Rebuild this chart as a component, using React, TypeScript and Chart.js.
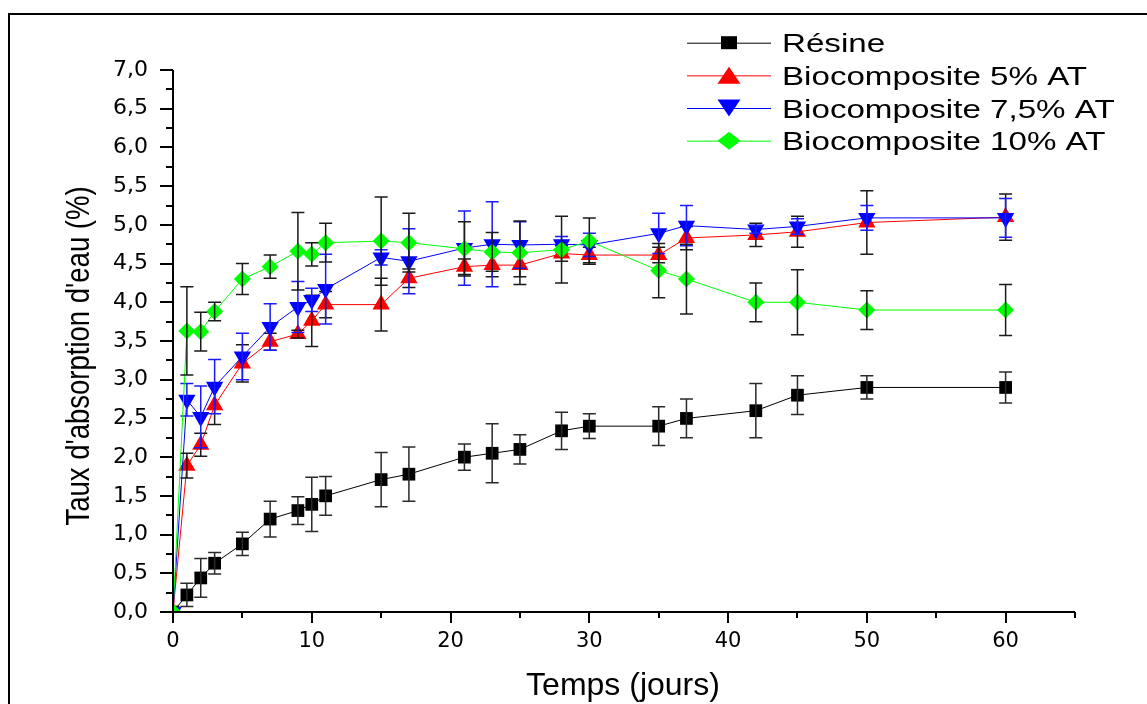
import React, { useEffect, useRef } from 'react';
import { Chart, registerables } from 'chart.js';

Chart.register(...registerables);

// ---------- data ----------
const days = [0, 1, 2, 3, 5, 7, 9, 10, 11, 15, 17, 21, 23, 25, 28, 30, 35, 37, 42, 45, 50, 60];

const resine = [0, 0.22, 0.44, 0.63, 0.88, 1.2, 1.31, 1.39, 1.5, 1.71, 1.78, 2.0, 2.05, 2.1, 2.34, 2.4, 2.4, 2.5, 2.6, 2.8, 2.9, 2.9];
const resineErr = [0, 0.15, 0.25, 0.14, 0.15, 0.23, 0.18, 0.35, 0.25, 0.35, 0.35, 0.17, 0.38, 0.19, 0.24, 0.16, 0.25, 0.25, 0.35, 0.25, 0.15, 0.2];

const bio5 = [0, 1.89, 2.16, 2.67, 3.21, 3.49, 3.59, 3.76, 3.97, 3.97, 4.31, 4.46, 4.48, 4.48, 4.63, 4.61, 4.61, 4.83, 4.87, 4.91, 5.03, 5.1];
const bio5Err = [0, 0.16, 0.15, 0.25, 0.24, 0.11, 0.05, 0.33, 0.17, 0.34, 0.12, 0.1, 0.15, 0.15, 0.1, 0.1, 0.1, 0.15, 0.15, 0.2, 0.41, 0.3];

const bio75 = [0, 2.74, 2.52, 2.91, 3.3, 3.68, 3.94, 4.03, 4.17, 4.58, 4.53, 4.7, 4.75, 4.74, 4.75, 4.74, 4.89, 4.99, 4.94, 4.98, 5.09, 5.09];
const bio75Err = [0, 0.21, 0.4, 0.35, 0.3, 0.3, 0.33, 0.15, 0.45, 0.1, 0.42, 0.48, 0.55, 0.3, 0.1, 0.15, 0.26, 0.26, 0.05, 0.1, 0.16, 0.25];

const bio10 = [0, 3.63, 3.62, 3.88, 4.3, 4.46, 4.66, 4.62, 4.77, 4.79, 4.77, 4.69, 4.65, 4.64, 4.68, 4.79, 4.41, 4.3, 4.0, 4.0, 3.9, 3.9];
const bio10Err = [0, 0.57, 0.25, 0.12, 0.2, 0.15, 0.5, 0.15, 0.25, 0.57, 0.38, 0.35, 0.25, 0.41, 0.43, 0.3, 0.35, 0.45, 0.25, 0.42, 0.25, 0.33];

const seriesLabels = ['Résine', 'Biocomposite 5% AT', 'Biocomposite 7,5% AT', 'Biocomposite 10% AT'];
const seriesColors = ['#000000', '#ff0000', '#0000ff', '#00ff00'];
const errorColors = ['#2a2a2a', '#1a1a1a', '#1a1aff', '#1a1a1a'];
const legendShapes = ['square', 'triUp', 'triDown', 'diamond'];

const xTitle = 'Temps (jours)';
const yTitle = "Taux d'absorption d'eau (%)";

const xMin = 0, xMax = 65, xMajorStep = 10, xMinorStep = 5;
const yMin = 0, yMax = 7, yMajorStep = 0.5, yMinorStep = 0.25;

const seriesValues = [resine, bio5, bio75, bio10];
const seriesErrors = [resineErr, bio5Err, bio75Err, bio10Err];

// ---------- plugins ----------
const errorBarsPlugin = {
  id: 'errorBars',
  afterDatasetDraw(chart: any, args: any) {
    const idx = args.index;
    const errs = seriesErrors[idx];
    const vals = seriesValues[idx];
    if (!errs) return;
    const { ctx, scales } = chart;
    const xs = scales.x, ys = scales.y;
    ctx.save();
    ctx.strokeStyle = errorColors[idx];
    ctx.lineWidth = 1.5;
    const cap = 6.5;
    for (let i = 0; i < days.length; i++) {
      const e = errs[i];
      if (!e) continue;
      const px = xs.getPixelForValue(days[i]);
      const top = ys.getPixelForValue(vals[i] + e);
      const bot = ys.getPixelForValue(vals[i] - e);
      ctx.beginPath();
      ctx.moveTo(px, top);
      ctx.lineTo(px, bot);
      ctx.moveTo(px - cap, top);
      ctx.lineTo(px + cap, top);
      ctx.moveTo(px - cap, bot);
      ctx.lineTo(px + cap, bot);
      ctx.stroke();
    }
    ctx.restore();
  },
};

const axesPlugin = {
  id: 'originAxes',
  afterDatasetsDraw(chart: any) {
    const { ctx, scales } = chart;
    const xs = scales.x, ys = scales.y;
    const x0 = xs.getPixelForValue(xMin);
    const x1 = xs.getPixelForValue(xMax);
    const y0 = ys.getPixelForValue(yMin);
    const y1 = ys.getPixelForValue(yMax);
    ctx.save();
    ctx.strokeStyle = '#000';
    ctx.lineWidth = 2;
    ctx.beginPath();
    ctx.moveTo(x0, y1);
    ctx.lineTo(x0, y0);
    ctx.lineTo(x1, y0);
    ctx.stroke();
    // y ticks
    for (let v = yMin; v <= yMax + 1e-9; v += yMinorStep) {
      const py = Math.round(ys.getPixelForValue(v));
      const major = Math.abs(v / yMajorStep - Math.round(v / yMajorStep)) < 1e-6;
      const len = major ? 13 : 7;
      ctx.beginPath();
      ctx.moveTo(x0 - len, py);
      ctx.lineTo(x0, py);
      ctx.stroke();
    }
    // x ticks
    for (let t = xMin; t <= xMax + 1e-9; t += xMinorStep) {
      const px = Math.round(xs.getPixelForValue(t));
      const major = t % xMajorStep === 0;
      const len = major ? 11 : 6;
      ctx.beginPath();
      ctx.moveTo(px, y0);
      ctx.lineTo(px, y0 + len);
      ctx.stroke();
    }
    ctx.restore();
  },
};

function drawLegendShape(ctx: CanvasRenderingContext2D, kind: string, cx: number, cy: number) {
  ctx.beginPath();
  if (kind === 'square') {
    ctx.rect(cx - 8, cy - 6.5, 16, 13);
  } else if (kind === 'triUp') {
    ctx.moveTo(cx, cy - 8.5);
    ctx.lineTo(cx + 11.5, cy + 8.5);
    ctx.lineTo(cx - 11.5, cy + 8.5);
    ctx.closePath();
  } else if (kind === 'triDown') {
    ctx.moveTo(cx, cy + 8.5);
    ctx.lineTo(cx + 11.5, cy - 8.5);
    ctx.lineTo(cx - 11.5, cy - 8.5);
    ctx.closePath();
  } else {
    ctx.moveTo(cx, cy - 9);
    ctx.lineTo(cx + 11.5, cy);
    ctx.lineTo(cx, cy + 9);
    ctx.lineTo(cx - 11.5, cy);
    ctx.closePath();
  }
  ctx.fill();
}

const decorPlugin = {
  id: 'decor',
  afterDraw(chart: any) {
    const { ctx, chartArea } = chart;
    ctx.save();
    // legend
    const lx0 = 687, lx1 = 771, mx = 729, tx = 782;
    const rowY0 = 42.7, rowGap = 32.65;
    chart.data.datasets.forEach((ds: any, i: number) => {
      const cy = rowY0 + i * rowGap;
      ctx.strokeStyle = ds.borderColor;
      ctx.fillStyle = ds.backgroundColor;
      ctx.lineWidth = 1;
      ctx.beginPath();
      ctx.moveTo(lx0, cy + 0.5);
      ctx.lineTo(lx1, cy + 0.5);
      ctx.stroke();
      drawLegendShape(ctx, legendShapes[i], mx, cy);
      ctx.save();
      ctx.fillStyle = '#000';
      ctx.font = '26.5px "Liberation Sans", Arial, sans-serif';
      ctx.textAlign = 'left';
      ctx.textBaseline = 'alphabetic';
      ctx.translate(tx, cy + 9.5);
      ctx.scale(1.25, 1);
      ctx.fillText(ds.label, 0, 0);
      ctx.restore();
    });
    // y title (rotated, stretched across)
    ctx.save();
    ctx.fillStyle = '#000';
    ctx.font = '27.5px "Liberation Sans", Arial, sans-serif';
    ctx.textAlign = 'center';
    ctx.textBaseline = 'alphabetic';
    ctx.translate(89, (chartArea.top + chartArea.bottom) / 2 + 15);
    ctx.rotate(-Math.PI / 2);
    ctx.scale(1, 1.2);
    ctx.fillText(yTitle, 0, 0);
    ctx.restore();
    // x title
    ctx.save();
    ctx.fillStyle = '#000';
    ctx.font = '32px "Liberation Sans", Arial, sans-serif';
    ctx.textAlign = 'center';
    ctx.textBaseline = 'alphabetic';
    ctx.fillText(xTitle, (chartArea.left + chartArea.right) / 2 - 1, 695);
    ctx.restore();
    ctx.restore();
  },
};

export default function App() {
  const canvasRef = useRef<HTMLCanvasElement | null>(null);

  useEffect(() => {
    const canvas = canvasRef.current;
    if (!canvas) return;
    const toPoints = (vals: number[]) => days.map((d, i) => ({ x: d, y: vals[i] }));
    const chart = new Chart(canvas, {
      type: 'line',
      data: {
        datasets: [
          {
            label: seriesLabels[0],
            data: toPoints(resine),
            borderColor: seriesColors[0],
            backgroundColor: seriesColors[0],
            borderWidth: 1,
            pointStyle: 'rect',
            pointRadius: 9,
            pointBorderWidth: 0,
            tension: 0,
            order: 4,
          },
          {
            label: seriesLabels[1],
            data: toPoints(bio5),
            borderColor: seriesColors[1],
            backgroundColor: seriesColors[1],
            borderWidth: 1,
            pointStyle: 'triangle',
            pointRadius: 10,
            pointBorderWidth: 0,
            tension: 0,
            order: 3,
          },
          {
            label: seriesLabels[2],
            data: toPoints(bio75),
            borderColor: seriesColors[2],
            backgroundColor: seriesColors[2],
            borderWidth: 1,
            pointStyle: 'triangle',
            pointRotation: 180,
            pointRadius: 10,
            pointBorderWidth: 0,
            tension: 0,
            order: 2,
          },
          {
            label: seriesLabels[3],
            data: toPoints(bio10),
            borderColor: seriesColors[3],
            backgroundColor: seriesColors[3],
            borderWidth: 1,
            pointStyle: 'rectRot',
            pointRadius: 8.5,
            pointBorderWidth: 0,
            tension: 0,
            order: 1,
          },
        ] as any,
      },
      options: {
        responsive: false,
        animation: false,
        events: [],
        layout: { padding: { top: 70, right: 72, left: 0, bottom: 0 } },
        plugins: {
          legend: { display: false },
          tooltip: { enabled: false },
        },
        scales: {
          x: {
            type: 'linear',
            min: xMin,
            max: xMax,
            afterFit: (s: any) => { s.height = 92; },
            grid: { display: false, drawTicks: false },
            border: { display: false },
            ticks: {
              stepSize: xMajorStep,
              includeBounds: false,
              padding: 17,
              color: '#000',
              maxRotation: 0,
              autoSkip: false,
              font: { family: '"DejaVu Sans", sans-serif', size: 21 },
            },
          },
          y: {
            type: 'linear',
            min: yMin,
            max: yMax,
            afterFit: (s: any) => { s.width = 173; },
            grid: { display: false, drawTicks: false },
            border: { display: false },
            ticks: {
              stepSize: yMajorStep,
              padding: 25,
              color: '#000',
              autoSkip: false,
              font: { family: '"DejaVu Sans", sans-serif', size: 22 },
              callback: (v: any) => Number(v).toFixed(1).replace('.', ','),
            },
          },
        },
      } as any,
      plugins: [errorBarsPlugin, axesPlugin, decorPlugin],
    });
    return () => chart.destroy();
  }, []);

  return (
    <div style={{ position: 'fixed', left: 0, top: 0, width: 1147, height: 704, background: '#fff', overflow: 'hidden' }}>
      <div
        style={{
          position: 'absolute',
          left: 8,
          top: 13,
          width: 1200,
          height: 800,
          borderTop: '2px solid #000',
          borderLeft: '2px solid #000',
        }}
      />
      <canvas ref={canvasRef} width={1147} height={704} style={{ position: 'absolute', left: 0, top: 0 }} />
    </div>
  );
}
